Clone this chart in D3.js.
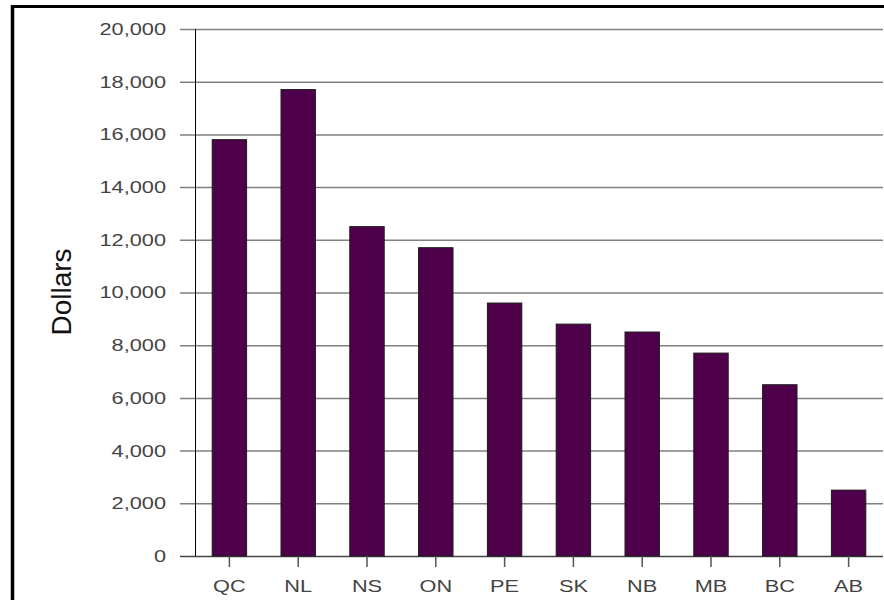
<!DOCTYPE html>
<html>
<head>
<meta charset="utf-8">
<script src="https://cdn.jsdelivr.net/npm/d3@7"></script>
<style>
    body { margin: 0; background: #fff; }
    svg { display: block; }
    .lbl { font-family: "Liberation Sans", Arial, sans-serif; fill: #444; }
</style>
</head>
<body>
<div id="chart"></div>
<script>
// data
const provinces = ["QC", "NL", "NS", "ON", "PE", "SK", "NB", "MB", "BC", "AB"];
const dollars = [15800, 17700, 12500, 11700, 9600, 8800, 8500, 7700, 6500, 2500];
const yTicks = [0, 2000, 4000, 6000, 8000, 10000, 12000, 14000, 16000, 18000, 20000];

const W = 884, H = 600;
const plotLeft = 195, plotRight = 883, plotTop = 29, plotBottom = 556;
const stretch = 1.28; // the labels in the original are drawn wide

let svg = d3.select("#chart").append("svg")
    .attr("width", W)
    .attr("height", H);

let y = d3.scaleLinear()
    .domain([0, 20000])
    .range([plotBottom, plotTop]);

let x = d3.scaleBand()
    .domain(provinces)
    .range([plotLeft, plotRight])
    .paddingInner(0.5)
    .paddingOuter(0.25);

// frame (only top and left edges are visible)
svg.append("line")
    .attr("x1", 12.5).attr("x2", 12.5).attr("y1", 5).attr("y2", H)
    .attr("stroke", "#000").attr("stroke-width", 3.5);
svg.append("line")
    .attr("x1", 11).attr("x2", W).attr("y1", 6.5).attr("y2", 6.5)
    .attr("stroke", "#000").attr("stroke-width", 3);

// y gridlines + labels
let gridLen = plotRight - (plotLeft - 15);
let yAxis = svg.append("g")
    .attr("transform", "translate(" + plotRight + ",0)")
    .call(d3.axisLeft(y)
        .tickValues(yTicks)
        .tickSize(gridLen)
        .tickPadding(14)
        .tickFormat(d3.format(",")));
yAxis.select(".domain").remove();
yAxis.selectAll(".tick line")
    .attr("stroke", function(d){ return d === 0 ? "#444" : "#808080"; })
    .attr("stroke-width", 1.5);
yAxis.selectAll(".tick text")
    .attr("class", "lbl")
    .style("font-size", "17px")
    .attr("x", -(gridLen + 14) / stretch)
    .attr("transform", "scale(" + stretch + ",1)");

// vertical axis line
svg.append("line")
    .attr("x1", plotLeft + 0.5).attr("x2", plotLeft + 0.5)
    .attr("y1", y(20000)).attr("y2", y(0))
    .attr("stroke", "#000").attr("stroke-width", 1);

// bars
svg.append("g")
    .selectAll("rect")
    .data(dollars)
    .enter()
    .append("rect")
    .attr("x", function(d, i){ return x(provinces[i]); })
    .attr("width", x.bandwidth())
    .attr("y", function(d){ return y(d); })
    .attr("height", function(d){ return y(0) - y(d); })
    .attr("fill", "#4f004b")
    .attr("stroke", "#1a1a1a")
    .attr("stroke-width", 1);

// x axis ticks + labels
let xAxis = svg.append("g")
    .attr("transform", "translate(0," + plotBottom + ")")
    .call(d3.axisBottom(x).tickSize(11).tickPadding(13));
xAxis.select(".domain").remove();
xAxis.selectAll(".tick line").attr("stroke", "#555").attr("stroke-width", 1.5);
xAxis.selectAll(".tick text")
    .attr("class", "lbl")
    .style("font-size", "17px")
    .attr("transform", "scale(" + stretch + ",1)");

// y title
svg.append("text")
    .attr("class", "lbl")
    .attr("transform", "translate(71,292) rotate(-90)")
    .style("text-anchor", "middle")
    .style("font-size", "28px")
    .style("fill", "#111")
    .text("Dollars");
</script>
</body>
</html>
